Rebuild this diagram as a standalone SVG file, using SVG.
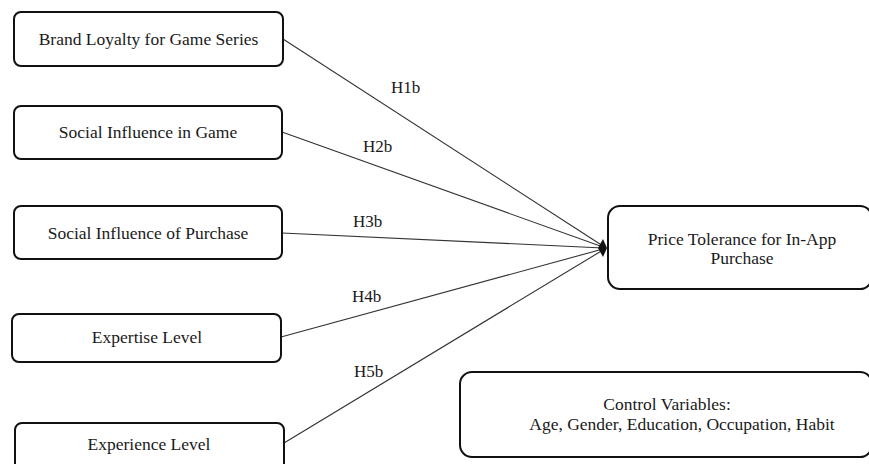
<svg xmlns="http://www.w3.org/2000/svg" width="869" height="464" viewBox="0 0 869 464">
  <style>
    .box { fill: #ffffff; stroke: #111111; stroke-width: 2; }
    .lbl { font-family: "Liberation Serif", "Times New Roman", serif; font-size: 17.5px; fill: #1a1a1a; text-anchor: middle; }
    .hyp { font-family: "Liberation Serif", "Times New Roman", serif; font-size: 17px; fill: #1a1a1a; }
    .edge { stroke: #333333; stroke-width: 1.1; fill: none; }
  </style>
  <rect width="869" height="464" fill="#ffffff"/>

  <g id="connectors">
    <line class="edge" x1="283" y1="39" x2="603" y2="246"/>
    <line class="edge" x1="282" y1="132" x2="603" y2="247"/>
    <line class="edge" x1="282" y1="233" x2="603" y2="248"/>
    <line class="edge" x1="281" y1="337" x2="603" y2="249"/>
    <line class="edge" x1="284" y1="443" x2="603" y2="250"/>
    <!-- shared arrowhead where all five paths meet -->
    <path d="M598,248 L603,239 L607,248 L603,257 Z" fill="#111111"/>
    <text class="hyp" x="391" y="93">H1b</text>
    <text class="hyp" x="363" y="152">H2b</text>
    <text class="hyp" x="353" y="227">H3b</text>
    <text class="hyp" x="352" y="302">H4b</text>
    <text class="hyp" x="354" y="377">H5b</text>
  </g>

  <g id="brand-loyalty">
    <rect class="box" x="14" y="12" width="269" height="54" rx="7"/>
    <text class="lbl" x="148.5" y="45">Brand Loyalty for Game Series</text>
  </g>
  <g id="social-influence-game">
    <rect class="box" x="14" y="106" width="268" height="53" rx="7"/>
    <text class="lbl" x="148" y="138">Social Influence in Game</text>
  </g>
  <g id="social-influence-purchase">
    <rect class="box" x="14" y="206" width="268" height="53" rx="7"/>
    <text class="lbl" x="148" y="239">Social Influence of Purchase</text>
  </g>
  <g id="expertise-level">
    <rect class="box" x="12" y="314" width="269" height="48" rx="7"/>
    <text class="lbl" x="147" y="343">Expertise Level</text>
  </g>
  <g id="experience-level">
    <rect class="box" x="15" y="423" width="269" height="48" rx="7"/>
    <text class="lbl" x="149" y="450">Experience Level</text>
  </g>
  <g id="price-tolerance">
    <rect class="box" x="608" y="206" width="264" height="83" rx="12"/>
    <text class="lbl" x="742" y="245">Price Tolerance for In-App</text>
    <text class="lbl" x="742" y="264">Purchase</text>
  </g>
  <g id="control-variables">
    <rect class="box" x="460" y="372" width="412" height="85" rx="12"/>
    <text class="lbl" x="667" y="410">Control Variables:</text>
    <text class="lbl" x="682" y="430">Age, Gender, Education, Occupation, Habit</text>
  </g>
</svg>
